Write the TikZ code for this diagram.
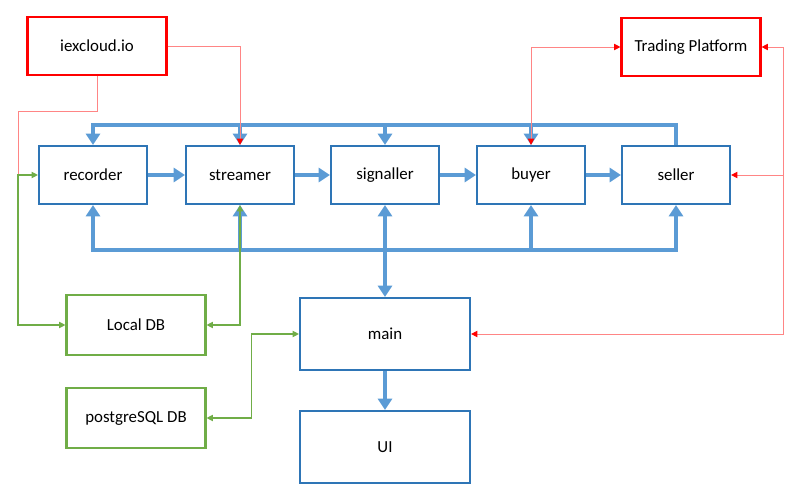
\documentclass[tikz,border=0pt]{standalone}
\usepackage{fontspec}
\setmainfont{Carlito}
\usetikzlibrary{arrows.meta}

\definecolor{boxblue}{HTML}{2E75B6}
\definecolor{busblue}{HTML}{5B9BD5}
\definecolor{dbgreen}{HTML}{70AD47}
\definecolor{linered}{HTML}{FF8585}

\begin{document}
\begin{tikzpicture}[x=0.025cm, y=-0.025cm]
   \tikzstyle{every node}=[rectangle, draw, line width=1.5pt, fill=white, font=\fontsize{12}{14}\selectfont, inner sep=0pt]
   \tikzstyle{module}=[draw=boxblue, minimum width=2.7cm, minimum height=1.45cm]
   \tikzstyle{source}=[draw=red, minimum width=3.475cm, minimum height=1.47cm]
   \tikzstyle{store}=[draw=dbgreen, minimum width=3.475cm, minimum height=1.48cm]
   \tikzstyle{app}=[draw=boxblue, minimum width=4.25cm, minimum height=1.8cm]
   \tikzstyle{bus}=[draw=busblue, line width=3.5pt, -{Triangle[width=10pt,length=8pt]}]
   \tikzstyle{feed}=[draw=linered, line width=0.7pt, -{Triangle[width=4.5pt,length=4.5pt,color=red]}]
   \tikzstyle{link}=[draw=dbgreen, line width=0.8pt, {Triangle[width=4.5pt,length=4.5pt]}-{Triangle[width=4.5pt,length=4.5pt]}]

\useasboundingbox (0,0) rectangle (800,498);

% sources
\node[source] (iex) at (97,46) {iexcloud.io};
\node[source] (trade) at (691,47) {Trading Platform};

% modules
\node[module] (recorder) at (93,175) {recorder};
\node[module] (streamer) at (240,175) {streamer};
\node[module] (signaller) at (385,175) {signaller};
\node[module] (buyer) at (531,175) {buyer};
\node[module] (seller) at (676,175) {seller};

% databases
\node[store] (localdb) at (136,325) {Local DB};
\node[store] (pgdb) at (136,418) {postgreSQL DB};

% app
\node[app] (main) at (385,334) {main};
\node[app] (ui) at (385,447) {UI};

\coordinate (topbus) at (0,125);
\coordinate (botbus) at (0,250);
\coordinate (jl) at (18,175);
\coordinate (jr) at (783,175);

% top bus
\draw[bus] (seller.north) |- (recorder.north |- topbus) -- (recorder.north);
\draw[bus] (streamer.north |- topbus) -- (streamer.north);
\draw[bus] (signaller.north |- topbus) -- (signaller.north);
\draw[bus] (buyer.north |- topbus) -- (buyer.north);

% bottom bus
\draw[bus, {Triangle[width=10pt,length=8pt]}-{Triangle[width=10pt,length=8pt]}] (recorder.south) |- (seller.south |- botbus) -- (seller.south);
\draw[bus] (streamer.south |- botbus) -- (streamer.south);
\draw[bus] (buyer.south |- botbus) -- (buyer.south);
\draw[bus, {Triangle[width=10pt,length=8pt]}-{Triangle[width=10pt,length=8pt]}] (signaller.south) -- (signaller.south |- main.north);

% chain
\draw[bus] (recorder) -- (streamer);
\draw[bus] (streamer) -- (signaller);
\draw[bus] (signaller) -- (buyer);
\draw[bus] (buyer) -- (seller);
\draw[bus] (main) -- (ui);

% data feeds
\draw[feed] (iex.east) -| (streamer.north);
\draw[feed, -] (iex.south) -- ++(0,35) -| (jl);
\draw[feed, {Triangle[width=4.5pt,length=4.5pt,color=red]}-{Triangle[width=4.5pt,length=4.5pt,color=red]}] (trade.west) -| (buyer.north);
\draw[feed, {Triangle[width=4.5pt,length=4.5pt,color=red]}-{Triangle[width=4.5pt,length=4.5pt,color=red]}] (trade.east) -| (jr) -- (seller.east);
\draw[feed] (jr) |- (main.east);

% storage
\draw[link] (recorder.west) -- (jl) |- (localdb.west);
\draw[link] (streamer.south) |- (localdb.east);
\draw[link] (main.west) -- ++(-47,0) |- (pgdb.east);

\end{tikzpicture}
\end{document}
